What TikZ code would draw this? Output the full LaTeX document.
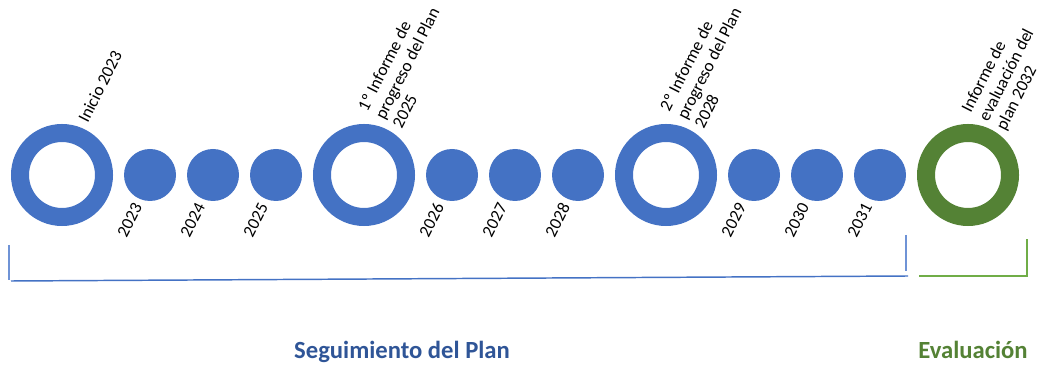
\documentclass[tikz,border=0pt]{standalone}
\usepackage{fontspec}
\setmainfont{Carlito}
\definecolor{planblue}{HTML}{4472C4}
\definecolor{plangreen}{HTML}{548235}
\definecolor{evalgreen}{HTML}{70AD47}
\definecolor{titleblue}{HTML}{2F5597}
\definecolor{brackblue}{HTML}{6F93D6}

\begin{document}
\begin{tikzpicture}[x=0.75pt,y=0.75pt,
  ring/.style={circle, draw=planblue, line width=13.5pt, minimum size=63pt, inner sep=0pt},
  dot/.style={circle, fill=planblue, minimum size=39pt, inner sep=0pt},
  milestone/.style={rotate=63, anchor=south west, align=left, inner sep=0pt, font=\fontsize{13}{14.5}\selectfont},
  yearlbl/.style={rotate=63, anchor=south east, inner sep=0pt, font=\fontsize{13}{14}\selectfont},
  phase/.style={anchor=base, inner sep=0pt, font=\fontsize{18.5}{20}\selectfont\bfseries}]
\useasboundingbox (0,0) rectangle (1045,364);
\node[ring] (ringStart) at (62,189) {};
\node[dot] (d2023) at (150,189) {};
\node[dot] (d2024) at (213,189) {};
\node[dot] (d2025) at (276,189) {};
\node[ring] (ringInf1) at (364,189) {};
\node[dot] (d2026) at (452,189) {};
\node[dot] (d2027) at (515,189) {};
\node[dot] (d2028) at (578,189) {};
\node[ring] (ringInf2) at (666,189) {};
\node[dot] (d2029) at (754,189) {};
\node[dot] (d2030) at (817,189) {};
\node[dot] (d2031) at (880,189) {};
\node[ring, draw=plangreen] (ringEval) at (968,189) {};
\node[milestone] (lStart) at ([shift={(26,51)}]ringStart.center) {Inicio 2023};
\node[milestone] (lInf1) at ([shift={(38,45)}]ringInf1.center) {1º Informe de\\progreso del Plan\\2025};
\node[milestone] (lInf2) at ([shift={(38,45)}]ringInf2.center) {2º Informe de\\progreso del Plan\\2028};
\node[milestone] (lEval) at ([shift={(40,42)}]ringEval.center) {Informe de\\evaluación del\\plan 2032};
\node[yearlbl] (y2023) at ([shift={(-7,-32)}]d2023.center) {2023};
\node[yearlbl] (y2024) at ([shift={(-7,-32)}]d2024.center) {2024};
\node[yearlbl] (y2025) at ([shift={(-7,-32)}]d2025.center) {2025};
\node[yearlbl] (y2026) at ([shift={(-7,-32)}]d2026.center) {2026};
\node[yearlbl] (y2027) at ([shift={(-7,-32)}]d2027.center) {2027};
\node[yearlbl] (y2028) at ([shift={(-7,-32)}]d2028.center) {2028};
\node[yearlbl] (y2029) at ([shift={(-7,-32)}]d2029.center) {2029};
\node[yearlbl] (y2030) at ([shift={(-7,-32)}]d2030.center) {2030};
\node[yearlbl] (y2031) at ([shift={(-7,-32)}]d2031.center) {2031};
\draw[brackblue, line width=1.1pt] (9,119) -- (9,84);
\draw[planblue, line width=1.1pt] (11,83) -- (908,88);
\draw[brackblue, line width=1.1pt] (906,129) -- (906,93);
\draw[evalgreen, line width=1.5pt] (919,88) -- (1027,88) -- (1027,125);
\node[phase, text=titleblue] (tSeg) at (402,6) {Seguimiento del Plan};
\node[phase, text=plangreen] (tEval) at (973,6) {Evaluación};
\end{tikzpicture}
\end{document}
